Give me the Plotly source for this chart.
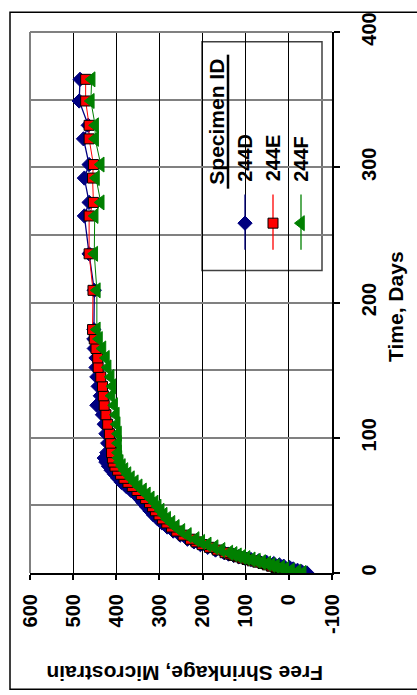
import plotly.graph_objects as go

# ---------------- data ----------------
days = [0, 1, 2, 3, 4, 5, 6, 7, 8, 9, 10, 11, 12, 13, 14, 15, 17, 19, 21, 23, 25, 28,
        31, 34, 37, 40, 43, 46, 49, 52, 55, 58, 61, 64, 67, 70, 73, 76, 79, 82, 85, 89,
        96, 103, 110, 117, 124, 131, 138, 145, 152, 159, 166, 173, 180, 209, 236, 264,
        274, 292, 302, 321, 331, 349, 365]

s_244E = [-8, 2, 12, 20, 30, 40, 50, 60, 72, 85, 97, 108, 118, 128, 138, 148, 166, 184,
          201, 215, 228, 245, 260, 272, 283, 293, 301, 309, 316, 323, 332, 342, 352, 363,
          373, 382, 390, 397, 403, 407, 409, 411, 413, 416, 420, 424, 428, 430, 432, 436,
          442, 443, 447, 451, 455, 454, 463, 463, 453, 455, 453, 463, 463, 471, 471]

s_244D = [-42, -30, -20, -10, -2, 12, 22, 35, 52, 70, 88, 102, 116, 128, 140, 150, 170,
          188, 205, 220, 235, 252, 268, 282, 294, 304, 314, 322, 330, 338, 346, 355, 366,
          377, 388, 396, 404, 412, 418, 424, 428, 422, 420, 424, 428, 432, 445, 437, 442,
          445, 447, 447, 451, 452, 452, 451, 463, 474, 463, 474, 463, 476, 465, 486, 484]

s_244F = [-32, -20, -5, 8, 18, 30, 40, 50, 62, 74, 86, 98, 108, 118, 128, 138, 156, 172,
          188, 203, 216, 234, 249, 262, 272, 282, 290, 297, 304, 311, 320, 329, 338, 348,
          357, 366, 374, 381, 387, 392, 395, 396, 396, 396, 399, 401, 405, 411, 409, 413,
          420, 424, 432, 440, 445, 445, 451, 450, 436, 447, 436, 449, 449, 459, 457]

series_names = ["244D", "244E", "244F"]
shrink_ticks = [600, 500, 400, 300, 200, 100, 0, -100]
time_ticks = [0, 100, 200, 300, 400]

# ---------------- layout helpers ----------------
W, H = 417, 695
PL, PR, PT, PB = 30, 332, 24, 573   # plot area in pixels


def px(x):
    return (x - PL) / (PR - PL)


def py(y):
    return (PB - y) / (PB - PT)


NAVY = "#000080"
RED = "#FF0000"
GREEN = "#008000"
GRAY = "#808080"
FONT = "Liberation Sans, Arial, sans-serif"

styles = [
    dict(color=NAVY, symbol="diamond", size=11, lcol=NAVY, lw=1.3),
    dict(color=RED, symbol="square", size=10, lcol="#000000", lw=1.0),
    dict(color=GREEN, symbol="triangle-left", size=13, lcol=GREEN, lw=1.0),
]
values = [s_244D, s_244E, s_244F]

fig = go.Figure()
for name, vals, st in zip(series_names, values, styles):
    fig.add_trace(go.Scatter(
        x=vals, y=days, mode="lines+markers", name=name, showlegend=False,
        line=dict(color=st["color"], width=st["lw"]),
        marker=dict(symbol=st["symbol"], size=st["size"], color=st["color"],
                    line=dict(color=st["lcol"], width=1)),
    ))

# legend symbols on an overlay axis measured in pixels
leg_x = [245, 273, 301]
for name, st, lx in zip(series_names, styles, leg_x):
    fig.add_trace(go.Scatter(
        x=[lx, lx], y=[189, 245], mode="lines", xaxis="x2", yaxis="y2",
        showlegend=False, line=dict(color=st["color"], width=1.3), hoverinfo="skip"))
    fig.add_trace(go.Scatter(
        x=[lx], y=[218], mode="markers", xaxis="x2", yaxis="y2", showlegend=False,
        marker=dict(symbol=st["symbol"], size=st["size"], color=st["color"],
                    line=dict(color=st["lcol"], width=1)), hoverinfo="skip"))

shapes = [
    # outer chart border
    dict(type="rect", xref="paper", yref="paper", x0=px(10), x1=px(425), y0=py(691),
         y1=py(4), line=dict(color="#000000", width=1.5), layer="above"),
    # legend box
    dict(type="rect", xref="paper", yref="paper", x0=px(202), x1=px(322), y0=py(266),
         y1=py(34), fillcolor="white", line=dict(color="#404040", width=1.5),
         layer="between"),
    # gray plot-area edges (left, top)
    dict(type="line", xref="paper", yref="paper", x0=0, x1=0, y0=0, y1=1,
         line=dict(color=GRAY, width=2), layer="above"),
    dict(type="line", xref="paper", yref="paper", x0=0, x1=1, y0=1, y1=1,
         line=dict(color=GRAY, width=2), layer="above"),
    # underline of legend title
    dict(type="line", xref="paper", yref="paper", x0=px(228), x1=px(228), y0=py(183),
         y1=py(47), line=dict(color="#000000", width=2.5), layer="above"),
]

annotations = [
    dict(text="Time, Days", xref="paper", yref="paper", x=px(396), y=py(303),
         textangle=-90, showarrow=False, xanchor="center", yanchor="middle",
         font=dict(family=FONT, size=21, color="#000000", weight="bold")),
    dict(text="Free Shrinkage, Microstrain", xref="paper", yref="paper", x=px(184.5),
         y=py(675), textangle=180, showarrow=False, xanchor="center", yanchor="middle",
         font=dict(family=FONT, size=21, color="#000000", weight="bold")),
    dict(text="Specimen ID", xref="paper", yref="paper", x=px(217), y=py(115),
         textangle=-90, showarrow=False, xanchor="center", yanchor="middle",
         font=dict(family=FONT, size=21, color="#000000", weight="bold")),
]
for name, lx in zip(series_names, leg_x):
    annotations.append(dict(
        text=name, xref="paper", yref="paper", x=px(lx), y=py(178), textangle=-90,
        showarrow=False, xanchor="center", yanchor="bottom",
        font=dict(family=FONT, size=20, color="#000000", weight="bold")))

tickfont = dict(family=FONT, size=20, color="#000000", weight="bold")

fig.update_layout(
    width=W, height=H,
    margin=dict(l=PL, r=W - PR, t=PT, b=H - PB, pad=0),
    paper_bgcolor="white", plot_bgcolor="white",
    showlegend=False,
    xaxis=dict(
        range=[600, -100], tickvals=shrink_ticks, ticktext=[str(v) for v in shrink_ticks],
        tickangle=-90, ticks="outside", ticklen=5, tickcolor="#000000", tickwidth=1.5,
        tickfont=tickfont, ticklabelstandoff=6,
        showgrid=True, gridcolor="#000000", gridwidth=1,
        showline=True, linecolor="#000000", linewidth=2, zeroline=False,
    ),
    yaxis=dict(
        range=[0, 400], tickvals=time_ticks, ticktext=[str(v) for v in time_ticks],
        side="right", tickangle=-90, ticks="outside", ticklen=6, tickcolor="#000000",
        tickwidth=1.5, tickfont=tickfont, ticklabelstandoff=12,
        showgrid=True, gridcolor=GRAY, gridwidth=2,
        minor=dict(dtick=50, tick0=0, showgrid=True, gridcolor=GRAY, gridwidth=2, ticks=""),
        showline=True, linecolor="#000000", linewidth=2, zeroline=False,
    ),
    xaxis2=dict(range=[PL, PR], overlaying="x", anchor="y2", visible=False,
                fixedrange=True),
    yaxis2=dict(range=[PB, PT], overlaying="y", anchor="x2", visible=False,
                fixedrange=True),
    shapes=shapes,
    annotations=annotations,
)

fig.write_html(
    "out.html",
    config={"displayModeBar": False},
    post_script="document.body.style.margin='0';document.body.style.overflow='hidden';",
)
